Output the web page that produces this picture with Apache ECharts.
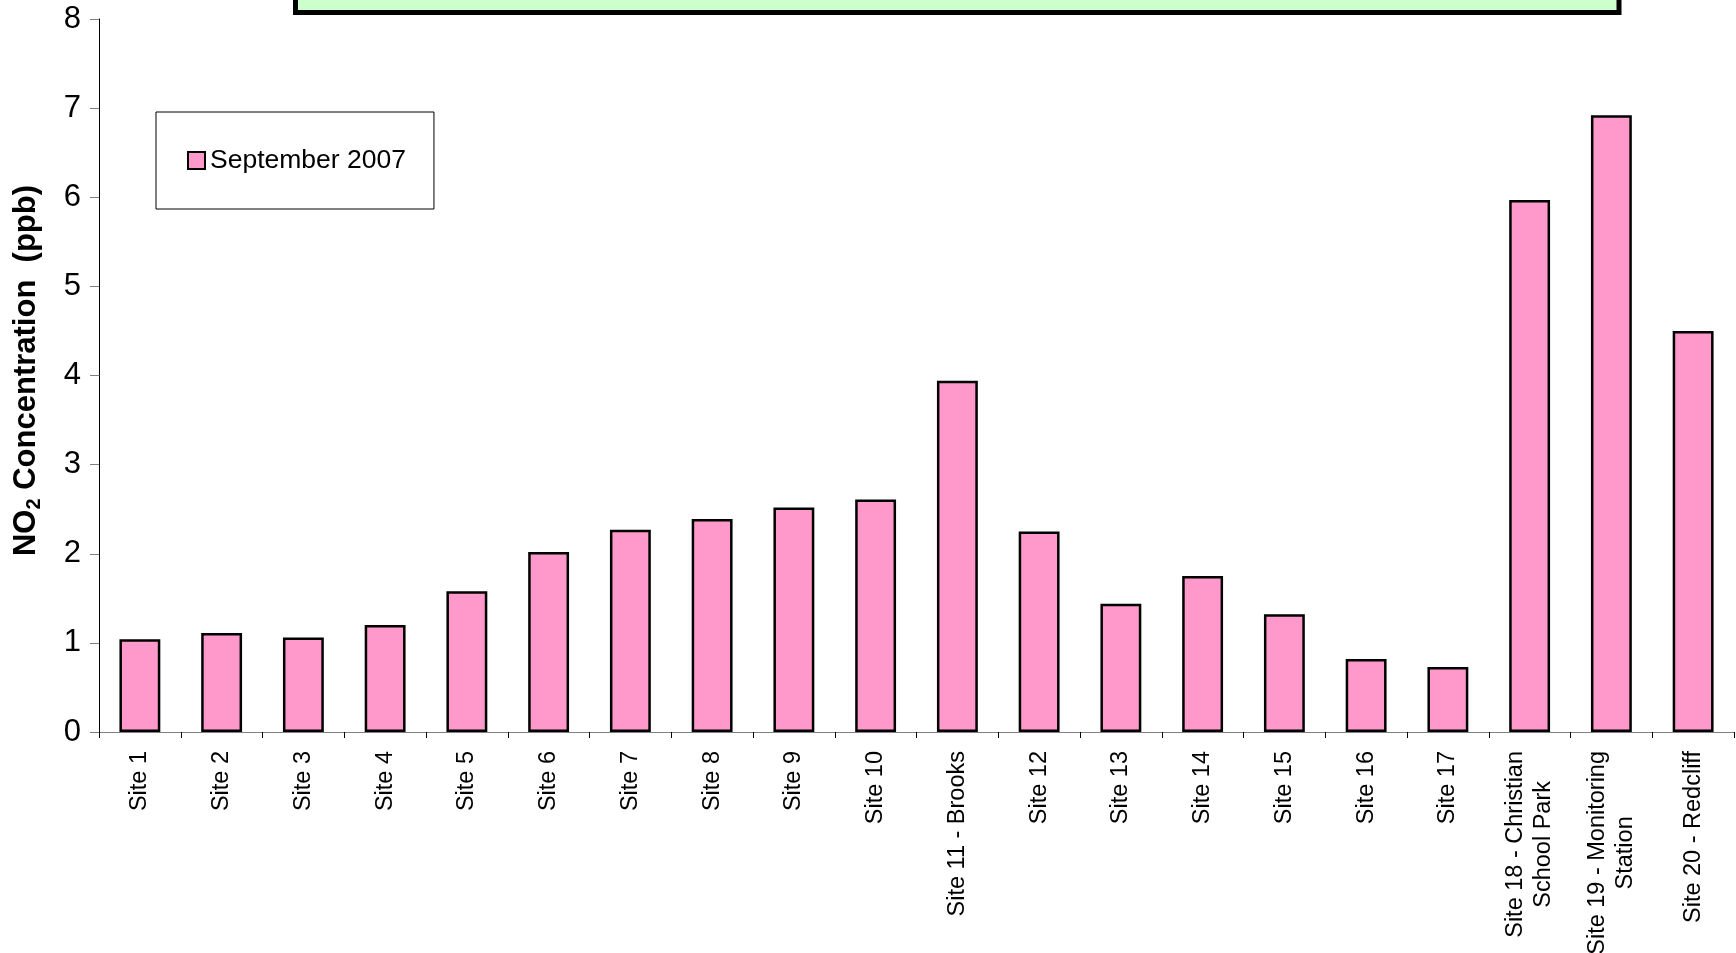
<!DOCTYPE html>
<html>
<head>
<meta charset="utf-8">
<title>NO2 Concentration - September 2007</title>
<script src="https://cdn.jsdelivr.net/npm/echarts@6/dist/echarts.min.js"></script>
<style>
  html, body { margin: 0; padding: 0; background: #ffffff; }
  #chart { width: 1736px; height: 953px; }
</style>
</head>
<body>
<div id="chart"></div>
<script>
// Monitoring sites (two-line names break with \n)
const sites = [
  'Site 1', 'Site 2', 'Site 3', 'Site 4', 'Site 5',
  'Site 6', 'Site 7', 'Site 8', 'Site 9', 'Site 10',
  'Site 11 - Brooks', 'Site 12', 'Site 13', 'Site 14', 'Site 15',
  'Site 16', 'Site 17', 'Site 18 - Christian\nSchool Park',
  'Site 19 - Monitoring\nStation', 'Site 20 - Redcliff'
];

// NO2 concentrations (ppb), September 2007
const september2007 = [
  1.04, 1.11, 1.06, 1.20, 1.58,
  2.02, 2.27, 2.39, 2.52, 2.61,
  3.94, 2.25, 1.44, 1.75, 1.32,
  0.82, 0.73, 5.97, 6.92, 4.50
];

const seriesName = 'September 2007';
const yTicks = { min: 0, max: 8, step: 1 };

const FONT = "'Liberation Sans', Arial, sans-serif";

const chart = echarts.init(document.getElementById('chart'), null, { renderer: 'canvas' });

chart.setOption({
  animation: false,
  backgroundColor: '#ffffff',
  textStyle: { fontFamily: FONT, color: '#000' },
  grid: { left: 99, right: 2, top: 19, bottom: 221, containLabel: false, outerBoundsMode: 'none' },
  legend: {
    data: [seriesName],
    left: 156,
    top: 112,
    orient: 'vertical',
    backgroundColor: '#ffffff',
    borderColor: '#000000',
    borderWidth: 1,
    padding: [35, 28, 35, 31],
    itemWidth: 17,
    itemHeight: 17,
    itemGap: 0,
    icon: 'rect',
    itemStyle: { borderColor: '#000', borderWidth: 2 },
    textStyle: { fontFamily: FONT, fontSize: 26.5, color: '#000', lineHeight: 25 }
  },
  xAxis: {
    type: 'category',
    data: sites,
    boundaryGap: true,
    axisLine: { show: true, lineStyle: { color: '#808080', width: 1 } },
    axisTick: { show: true, length: 6, alignWithLabel: false, lineStyle: { color: '#000', width: 1 } },
    axisLabel: {
      interval: 0,
      rotate: 90,
      margin: 19,
      formatter: function (v) { return '{c|' + v + '}'; },
      rich: {
        c: { fontFamily: FONT, fontSize: 23.5, lineHeight: 28, color: '#000', align: 'center' }
      }
    },
    splitLine: { show: false }
  },
  yAxis: {
    type: 'value',
    min: yTicks.min,
    max: yTicks.max,
    interval: yTicks.step,
    name: '{b|NO}{s|2}{b| Concentration  (ppb)}',
    nameLocation: 'middle',
    nameRotate: 90,
    nameGap: 55,
    nameTextStyle: {
      padding: [0, 0, 0, 10],
      rich: {
        b: { fontFamily: FONT, fontSize: 31, fontWeight: 'bold', color: '#000', lineHeight: 36 },
        s: { fontFamily: FONT, fontSize: 20, fontWeight: 'bold', color: '#000', lineHeight: 18, verticalAlign: 'bottom' }
      }
    },
    axisLine: { show: true, lineStyle: { color: '#000', width: 1 } },
    axisTick: { show: true, length: 9, inside: false, lineStyle: { color: '#808080', width: 1 } },
    axisLabel: { fontFamily: FONT, fontSize: 31, color: '#000', margin: 18 },
    splitLine: { show: false }
  },
  series: [{
    name: seriesName,
    type: 'bar',
    data: september2007,
    barCategoryGap: '50%',
    itemStyle: { color: '#FF99CC', borderColor: '#000', borderWidth: 2.5 }
  }],
  graphic: [{
    type: 'rect',
    z: 10,
    shape: { x: 295.5, y: -20, width: 1323.5, height: 32.5 },
    style: { fill: '#CCFFCC', stroke: '#000', lineWidth: 5 }
  }]
});
</script>
</body>
</html>
